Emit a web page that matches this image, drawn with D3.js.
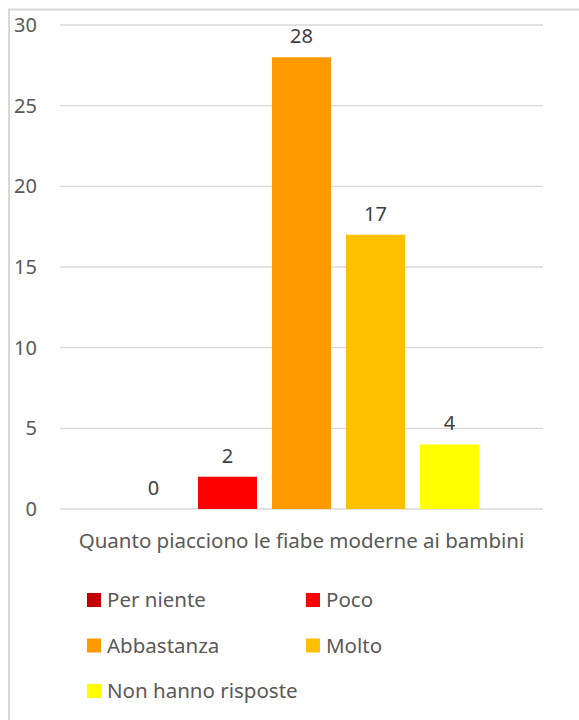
<!DOCTYPE html>
<html>
<head>
<meta charset="utf-8">
<script src="https://cdn.jsdelivr.net/npm/d3@7"></script>
<style>
  body { margin: 0; background: #fff; }
  svg text { font-family: "Noto Sans", "Open Sans", sans-serif; }
</style>
</head>
<body>
<div id="chart"></div>
<script>
// Data
const category = "Quanto piacciono le fiabe moderne ai bambini";
const series = ["Per niente", "Poco", "Abbastanza", "Molto", "Non hanno risposte"];
const values = [0, 2, 28, 17, 4];
const colors = ["#C00000", "#FF0000", "#FF9900", "#FFC000", "#FFFF00"];
const yTicks = [0, 5, 10, 15, 20, 25, 30];

const width = 579;
const height = 720;
const plotLeft = 60, plotRight = 543, plotTop = 25, plotBottom = 509;

const svg = d3.select("#chart")
    .append("svg")
    .attr("width", width)
    .attr("height", height);

// outer border (right/bottom edges fall outside the picture)
svg.append("rect")
    .attr("x", 9).attr("y", 9.5)
    .attr("width", width + 10).attr("height", height + 10)
    .attr("fill", "none")
    .attr("stroke", "#d9d9d9")
    .attr("stroke-width", 2);

const yScale = d3.scaleLinear()
    .domain([0, 30])
    .range([plotBottom, plotTop]);

const x0 = d3.scaleBand()
    .domain([category])
    .range([plotLeft, plotRight])
    .paddingInner(0)
    .paddingOuter(0.1803);

const x1 = d3.scaleBand()
    .domain(series)
    .range([0, x0.bandwidth()])
    .paddingInner(15 / 74)
    .paddingOuter(0);

// gridlines
svg.append("g")
    .selectAll("line")
    .data(yTicks)
    .join("line")
    .attr("x1", plotLeft)
    .attr("x2", plotRight)
    .attr("y1", d => yScale(d))
    .attr("y2", d => yScale(d))
    .attr("stroke", "#d9d9d9")
    .attr("stroke-width", 1.3);

// y axis labels
const yAxis = d3.axisLeft(yScale)
    .tickValues(yTicks)
    .tickSize(0)
    .tickPadding(0);

const yG = svg.append("g")
    .attr("transform", "translate(37,0)")
    .call(yAxis);
yG.select(".domain").remove();
yG.selectAll("text")
    .attr("fill", "#595959")
    .attr("font-size", 20)
    .attr("font-family", "'Noto Sans', sans-serif");

// bars
const g = svg.append("g")
    .attr("transform", "translate(" + x0(category) + ",0)");

g.selectAll("rect")
    .data(series)
    .join("rect")
    .attr("x", d => x1(d))
    .attr("width", x1.bandwidth())
    .attr("y", (d, i) => yScale(values[i]))
    .attr("height", (d, i) => yScale(0) - yScale(values[i]))
    .attr("fill", (d, i) => colors[i]);

g.selectAll("text.val")
    .data(series)
    .join("text")
    .attr("class", "val")
    .attr("x", d => x1(d) + x1.bandwidth() / 2)
    .attr("y", (d, i) => yScale(values[i]) - 14)
    .attr("text-anchor", "middle")
    .attr("font-size", 20)
    .attr("fill", "#404040")
    .text((d, i) => values[i]);

// category axis label
svg.append("text")
    .attr("x", x0(category) + x0.bandwidth() / 2)
    .attr("y", 548)
    .attr("text-anchor", "middle")
    .attr("font-size", 20.5)
    .attr("fill", "#595959")
    .text(category);

// legend
const legend = svg.append("g")
    .selectAll("g")
    .data(series)
    .join("g")
    .attr("transform", (d, i) => "translate(" + (i % 2 === 0 ? 87 : 306) + "," + (600 + Math.floor(i / 2) * 45.5) + ")");

legend.append("rect")
    .attr("x", 0).attr("y", -7)
    .attr("width", 14).attr("height", 14)
    .attr("fill", (d, i) => colors[i]);

legend.append("text")
    .attr("x", 20)
    .attr("y", 7)
    .attr("font-size", 20.5)
    .attr("fill", "#595959")
    .text(d => d);
</script>
</body>
</html>
